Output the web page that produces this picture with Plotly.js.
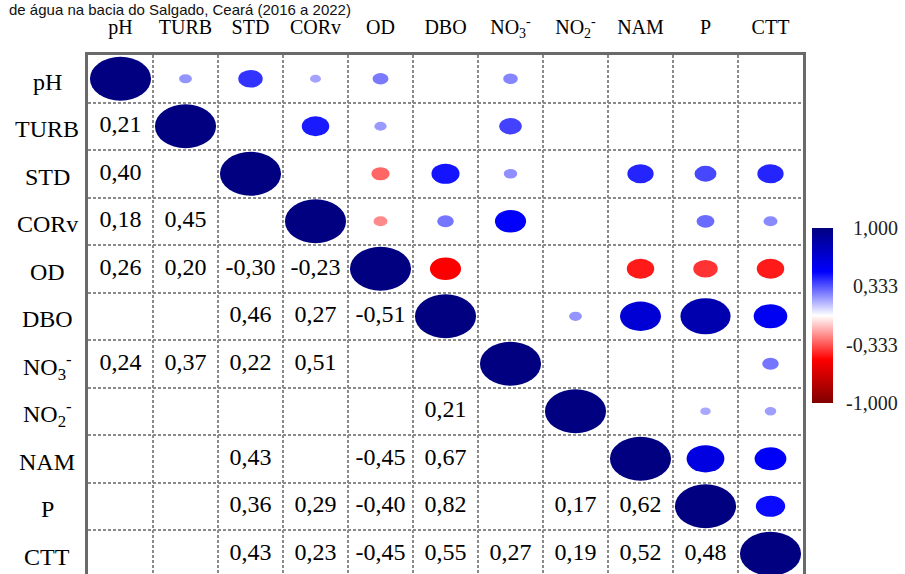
<!DOCTYPE html>
<html>
<head>
<meta charset="utf-8">
<script src="https://cdn.plot.ly/plotly-3.0.1.min.js"></script>
<style>html,body{margin:0;padding:0;background:#fff;}#chart{width:905px;height:574px;}</style>
</head>
<body>
<div id="chart"></div>
<script>
// ---- data ----
const variables = ['pH','TURB','STD','CORv','OD','DBO','NO3','NO2','NAM','P','CTT'];
const tickLabels = ['pH','TURB','STD','CORv','OD','DBO','NO<sub>3</sub><sup>-</sup>','NO<sub>2</sub><sup>-</sup>','NAM','P','CTT'];
// lower-triangle correlations (null = not significant)
const row_pH   = [1];
const row_TURB = [0.21, 1];
const row_STD  = [0.40, null, 1];
const row_CORv = [0.18, 0.45, null, 1];
const row_OD   = [0.26, 0.20, -0.30, -0.23, 1];
const row_DBO  = [null, null, 0.46, 0.27, -0.51, 1];
const row_NO3  = [0.24, 0.37, 0.22, 0.51, null, null, 1];
const row_NO2  = [null, null, null, null, null, 0.21, null, 1];
const row_NAM  = [null, null, 0.43, null, -0.45, 0.67, null, null, 1];
const row_P    = [null, null, 0.36, 0.29, -0.40, 0.82, null, 0.17, 0.62, 1];
const row_CTT  = [null, null, 0.43, 0.23, -0.45, 0.55, 0.27, 0.19, 0.52, 0.48, 1];
const colorbarTicks = [-1, -0.333, 0.333, 1];
const colorbarTickText = ['-1,000', '-0,333', '0,333', '1,000'];
const titleText = 'de água na bacia do Salgado, Ceará (2016 a 2022)';

const corrRows = [row_pH, row_TURB, row_STD, row_CORv, row_OD, row_DBO, row_NO3, row_NO2, row_NAM, row_P, row_CTT];

// ---- styling ----
const colorscale = [[0,'#800000'],[0.25,'#ff0000'],[0.5,'#ffffff'],[0.75,'#0000ff'],[1,'#000080']];
function hexToRgb(h){return [parseInt(h.substr(1,2),16),parseInt(h.substr(3,2),16),parseInt(h.substr(5,2),16)];}
function colorFor(v){
  const t = (v + 1) / 2;
  for (let k = 1; k < colorscale.length; k++) {
    if (t <= colorscale[k][0]) {
      const a = colorscale[k-1], b = colorscale[k];
      const f = (t - a[0]) / (b[0] - a[0]);
      const ca = hexToRgb(a[1]), cb = hexToRgb(b[1]);
      const c = ca.map((x, idx) => Math.round(x + (cb[idx] - x) * f));
      return 'rgb(' + c.join(',') + ')';
    }
  }
  return colorscale[colorscale.length-1][1];
}
const fmt = v => v.toFixed(2).replace('.', ',');

const textX = [], textY = [], textS = [];
const upX = [], upY = [], upV = [];
const shapes = [];
const RX = 0.47, RY = 0.463;
corrRows.forEach((row, i) => {
  row.forEach((v, j) => {
    if (v === null) return;
    if (j < i) { textX.push(j); textY.push(i); textS.push(fmt(v)); }
    upX.push(i); upY.push(j); upV.push(v);
    const a = Math.abs(v);
    shapes.push({type:'circle', xref:'x', yref:'y', x0:i - RX*a, x1:i + RX*a, y0:j - RY*a, y1:j + RY*a,
      fillcolor: colorFor(v), line:{width:0}, layer:'above'});
  });
});

const serif = 'Liberation Serif, Times New Roman, serif';

// colorbar geometry (paper units)
const cbY = 0.498, cbLenPx = 175, plotHpx = 519;
const cbHalf = cbLenPx / plotHpx / 2;

const traces = [
  {type:'scatter', mode:'text', x:textX, y:textY, text:textS,
   textfont:{family:serif, size:24, color:'#000'}, textposition:'middle center', hoverinfo:'text', showlegend:false, cliponaxis:false},
  {type:'scatter', mode:'markers', x:upX, y:upY, text:upV.map(fmt), hoverinfo:'text', showlegend:false,
   marker:{size:0, color:upV, cmin:-1, cmax:1, colorscale:colorscale, showscale:true,
     colorbar:{x:1.0126, xanchor:'left', xpad:0, y:cbY, yanchor:'middle', ypad:0,
       lenmode:'pixels', len:cbLenPx, thickness:21, outlinewidth:0,
       tickmode:'array', tickvals:colorbarTicks, ticktext:colorbarTickText, showticklabels:false,
       ticks:''}}}
];

const idx = variables.map((_, k) => k);
const bounds = idx.slice(0, -1).map(k => k + 0.5);

const annotations = tickLabels.map((lab, k) => ({
  xref:'paper', yref:'y', x:-0.0573, y:k, yshift:-3, xanchor:'center', yanchor:'middle',
  text:lab, showarrow:false, font:{family:serif, size:24, color:'#000'}
}));
colorbarTicks.forEach((v, k) => {
  annotations.push({xref:'paper', yref:'paper', x:1.1357, y:cbY + v * cbHalf, xanchor:'right', yanchor:'middle',
    text:colorbarTickText[k], showarrow:false, font:{family:serif, size:20, color:'#222'}});
});
annotations.push({xref:'paper', yref:'paper', x:-0.113, y:1.0886, xanchor:'left', yanchor:'middle',
  text:titleText, showarrow:false, font:{family:'Liberation Sans, Arial, sans-serif', size:15, color:'#111'}});

const layout = {
  width:905, height:574,
  margin:{l:88, r:102, t:55, b:0, pad:0},
  paper_bgcolor:'#fff', plot_bgcolor:'#fff',
  showlegend:false,
  xaxis:{range:[-0.5, 10.5], side:'top', tickmode:'array', tickvals:idx, ticktext:tickLabels,
    tickfont:{family:serif, size:20, color:'#000'}, ticks:'', showgrid:false, zeroline:false,
    showline:true, linecolor:'#6a6a6a', linewidth:2.5, mirror:false, ticklabelstandoff:10, fixedrange:true,
    minor:{tickmode:'array', tickvals:bounds, showgrid:true, gridcolor:'#8a8a8a', gridwidth:1.5, griddash:'3px,2px', ticks:''}},
  yaxis:{range:[10.426, -0.5], tickmode:'array', tickvals:idx, showticklabels:false, ticks:'', showgrid:false, zeroline:false,
    showline:true, linecolor:'#6a6a6a', linewidth:2.5, mirror:true, fixedrange:true,
    minor:{tickmode:'array', tickvals:bounds, showgrid:true, gridcolor:'#8a8a8a', gridwidth:1.5, griddash:'3px,2px', ticks:''}},
  shapes:shapes,
  annotations:annotations
};

Plotly.newPlot('chart', traces, layout, {displayModeBar:false});
</script>
</body>
</html>
